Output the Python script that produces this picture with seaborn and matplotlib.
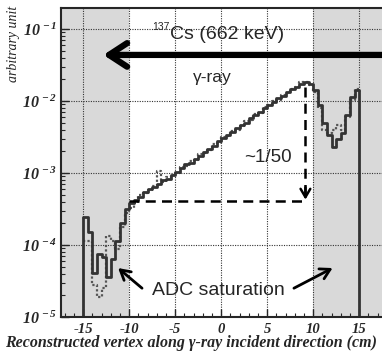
import numpy as np
import pandas as pd
import seaborn as sns
import matplotlib.pyplot as plt

sns.set_style('ticks')
plt.rcParams['font.family'] = ['Liberation Serif', 'DejaVu Serif']
plt.rcParams['mathtext.fontset'] = 'custom'
plt.rcParams['mathtext.rm'] = 'Liberation Serif:bold:italic'
plt.rcParams['mathtext.it'] = 'Liberation Serif:bold:italic'
plt.rcParams['mathtext.bf'] = 'Liberation Serif:bold:italic'

# histogram range and bin width (cm)
x_range = (-15.0, 15.0)
bin_width = 0.5

# log10 of bin contents
solid_log10 = [
    -3.61, -3.82, -4.39, -4.12, -4.16, -4.44, -4.20, -3.95, -3.70, -3.50,
    -3.42, -3.38, -3.33, -3.27, -3.22, -3.20, -3.15, -3.10, -3.08, -3.03,
    -2.98, -2.93, -2.88, -2.86, -2.80, -2.76, -2.71, -2.66, -2.62, -2.56,
    -2.52, -2.47, -2.43, -2.38, -2.33, -2.30, -2.24, -2.20, -2.15, -2.10,
    -2.05, -2.01, -1.96, -1.93, -1.88, -1.84, -1.80, -1.76, -1.74, -1.76,
    -1.85, -2.05, -2.30, -2.47, -2.64, -2.53, -2.45, -2.20, -1.95, -1.85,
]
dotted_log10 = [
    -3.95, -3.95, -4.55, -4.72, -4.60, -3.88, -3.95, -4.05, -3.75, -3.55,
    -3.48, -3.42, -3.30, -3.28, -3.24, -3.18, -2.97, -3.12, -3.05, -3.03,
    -3.00, -2.91, -2.90, -2.84, -2.82, -2.74, -2.72, -2.68, -2.60, -2.58,
    -2.50, -2.49, -2.41, -2.40, -2.35, -2.28, -2.26, -2.18, -2.17, -2.08,
    -2.06, -2.00, -1.98, -1.91, -1.89, -1.83, -1.81, -1.74, -1.73, -1.78,
    -1.88, -2.10, -2.40, -2.45, -2.40, -2.33, -2.40, -2.22, -1.98, -1.83,
]

x_ticks = [-15, -10, -5, 0, 5, 10, 15]
y_ticks = [1e-5, 1e-4, 1e-3, 1e-2, 1e-1]

n_bins = len(solid_log10)
centers = x_range[0] + bin_width * (np.arange(n_bins) + 0.5)
df = pd.DataFrame({
    'vertex': centers,
    'solid': 10.0 ** np.array(solid_log10),
    'dotted': 10.0 ** np.array(dotted_log10),
})

fig = plt.figure(figsize=(3.82, 3.54), dpi=100)
ax = fig.add_axes([0.160, 0.1045, 0.842, 0.873])

sns.histplot(data=df, x='vertex', weights='dotted', binwidth=bin_width,
             binrange=x_range, element='step', fill=False, color='#555555',
             linewidth=1.6, linestyle=(0, (1, 1)), ax=ax)
sns.histplot(data=df, x='vertex', weights='solid', binwidth=bin_width,
             binrange=x_range, element='step', fill=False, color='#333333',
             linewidth=2.0, ax=ax)
# outer edges of the solid histogram
ax.vlines([x_range[0]], 1e-5, df['solid'].iloc[0], color='#333333', lw=2.0)
ax.vlines([x_range[1]], 1e-5, df['solid'].iloc[-1], color='#333333', lw=2.0)

ax.set_yscale('log')
ax.set_xlim(-17.39, 17.55)
ax.set_ylim(1e-5, 0.196)

# shaded regions outside the fiducial +-10 cm
ax.axvspan(-17.39, -10, color='#d9d9d9', zorder=0, lw=0)
ax.axvspan(10, 17.55, color='#d9d9d9', zorder=0, lw=0)

ax.set_xticks(x_ticks)
ax.set_xticks(np.arange(-17, 18, 1), minor=True)
ax.set_yticks(y_ticks)
ax.set_xticklabels([str(t) for t in x_ticks])
ax.set_yticklabels([r'$10^{\,%d}$' % int(np.log10(t)) for t in y_ticks])
ax.tick_params(axis='both', which='major', direction='in', length=6, width=1)
ax.tick_params(axis='both', which='minor', direction='in', length=3, width=0.8)
ax.tick_params(axis='y', labelsize=11.5, pad=3)
ax.tick_params(axis='x', labelsize=10.5, pad=4)
for lab in ax.get_xticklabels():
    lab.set_fontweight('bold')
    lab.set_fontstyle('italic')
ax.grid(True, which='major', linestyle=(0, (1, 1.2)), color='#333333', lw=0.8)
ax.spines['right'].set_visible(False)
for s in ['left', 'top', 'bottom']:
    ax.spines[s].set_linewidth(1.5)

ax.set_xlabel('')
ax.set_ylabel('')
fig.text(0.5, 0.03, 'Reconstructed vertex along \u03b3-ray incident direction (cm)',
         ha='center', va='center', fontsize=11.5, fontweight='bold',
         fontstyle='italic')
fig.text(0.035, 0.985, 'arbitrary unit', rotation=90, va='top', ha='center',
         fontsize=10, fontstyle='italic')

sans = ['Liberation Sans', 'DejaVu Sans']
ax.text(-7.5, 10 ** -0.97, '137', family=sans, fontsize=7.5, va='center',
        ha='left')
ax.text(-5.6, 10 ** -1.08, 'Cs (662 keV)', family=sans, fontsize=14,
        va='center', ha='left')
ax.text(-1.0, 10 ** -1.67, '\u03b3-ray', family=sans, fontsize=12.5,
        va='center', ha='center')
ax.text(5.1, 10 ** -2.78, '~1/50', family=sans, fontsize=13.5,
        va='center', ha='center')
ax.text(-0.3, 10 ** -4.63, 'ADC saturation', family=sans, fontsize=14,
        va='center', ha='center')

# incident gamma direction
ax.annotate('', xy=(-12.8, 10 ** -1.36), xytext=(17.8, 10 ** -1.36),
            arrowprops=dict(arrowstyle='->,head_length=1.3,head_width=0.85',
                            lw=4.5, color='black', shrinkA=0, shrinkB=0,
                            mutation_scale=10),
            annotation_clip=False)

# ~1/50 guide lines
ax.plot([-10, 9.15], [10 ** -3.39, 10 ** -3.39], color='black', lw=1.8,
        linestyle=(0, (4, 2.5)))
ax.plot([9.15, 9.15], [10 ** -1.8, 10 ** -3.3], color='black', lw=1.8,
        linestyle=(0, (4, 2.5)))
ax.annotate('', xy=(9.15, 10 ** -3.37), xytext=(9.15, 10 ** -3.2),
            arrowprops=dict(arrowstyle='->,head_length=0.6,head_width=0.35',
                            lw=1.8, color='black', shrinkA=0, shrinkB=0))

# ADC saturation arrows
ax.annotate('', xy=(-11.2, 10 ** -4.32), xytext=(-8.6, 10 ** -4.6),
            arrowprops=dict(arrowstyle='->,head_length=0.7,head_width=0.4',
                            lw=2, color='black', shrinkA=0, shrinkB=0))
ax.annotate('', xy=(12.1, 10 ** -4.32), xytext=(7.9, 10 ** -4.6),
            arrowprops=dict(arrowstyle='->,head_length=0.7,head_width=0.4',
                            lw=2, color='black', shrinkA=0, shrinkB=0))

fig.savefig('out.png', dpi=100)
